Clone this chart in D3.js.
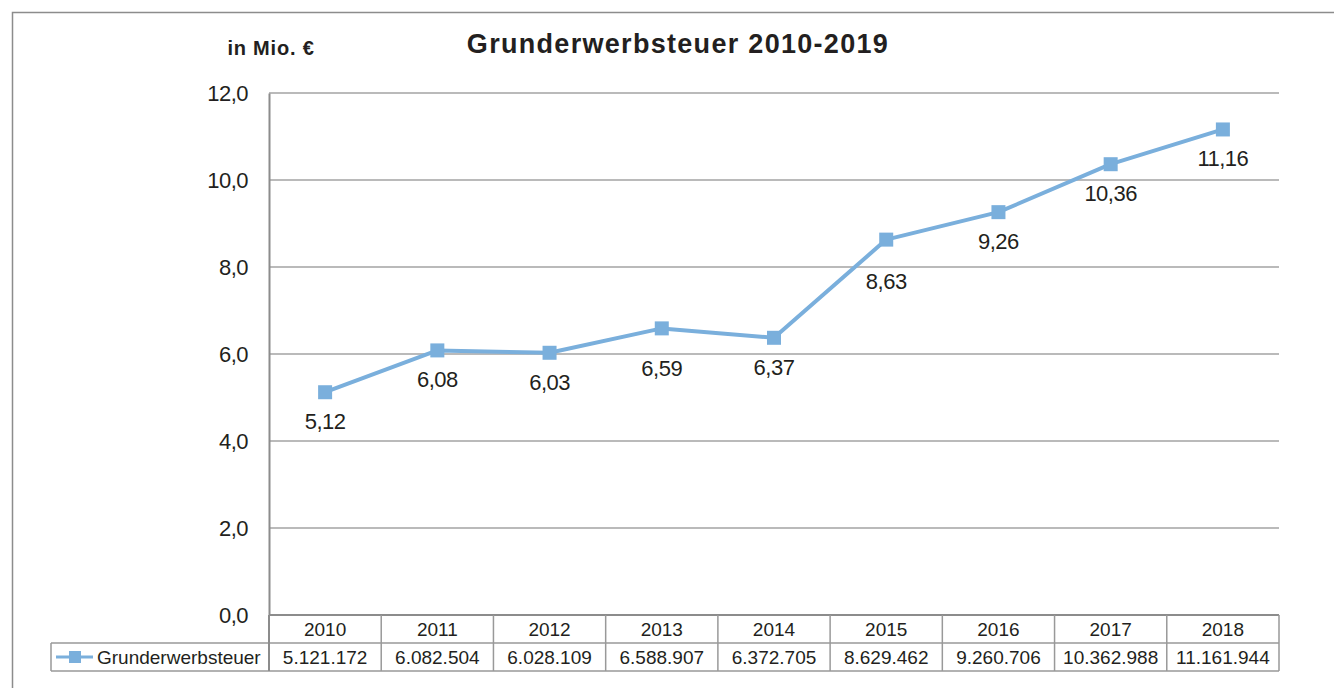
<!DOCTYPE html>
<html>
<head>
<meta charset="utf-8">
<script src="https://cdn.jsdelivr.net/npm/d3@7"></script>
<style>
body { margin:0; background:#fff; }
svg { font-family: "Liberation Sans", Arial, sans-serif; }
</style>
</head>
<body>
<div id="vis"></div>
<script>
var years = ["2010","2011","2012","2013","2014","2015","2016","2017","2018"];
var values = [5.121172, 6.082504, 6.028109, 6.588907, 6.372705, 8.629462, 9.260706, 10.362988, 11.161944];
var tableValues = ["5.121.172","6.082.504","6.028.109","6.588.907","6.372.705","8.629.462","9.260.706","10.362.988","11.161.944"];
var yTicks = [0, 2, 4, 6, 8, 10, 12];
var seriesName = "Grunderwerbsteuer";

var w = 1334, h = 688;
var lineColor = "#7aafdc", textColor = "#231f20";
var plotLeft = 269, plotRight = 1279, plotTop = 93, plotBottom = 615;
var rowH = 28;

var svg = d3.select("#vis").append("svg")
	.attr("width", w)
	.attr("height", h);

// outer frame
svg.append("path")
	.attr("d", "M12.5," + h + "V12.5H" + w)
	.attr("fill", "none")
	.attr("stroke", "#8c8c8c")
	.attr("stroke-width", 1.5);

var x = d3.scaleBand().domain(years).range([plotLeft, plotRight]);
var y = d3.scaleLinear().domain([0, 12]).range([plotBottom, plotTop]);

// gridlines
svg.append("g")
	.selectAll("line")
	.data(yTicks.filter(function(d){ return d > 0; }))
	.enter()
	.append("line")
	.attr("x1", plotLeft).attr("x2", plotRight)
	.attr("y1", function(d){ return y(d); })
	.attr("y2", function(d){ return y(d); })
	.attr("stroke", "#a3a3a3")
	.attr("stroke-width", 1.5);

// y axis
var yAxis = d3.axisLeft(y).tickValues(yTicks).tickSize(0).tickPadding(21)
	.tickFormat(function(d){ return d3.format(".1f")(d).replace(".", ","); });
var gy = svg.append("g").attr("transform", "translate(" + plotLeft + ",0)").call(yAxis);
gy.select(".domain").attr("stroke", "#8c8c8c").attr("stroke-width", 2);
gy.selectAll("text").attr("font-size", 22).attr("letter-spacing", -0.5).attr("fill", textColor)
	.attr("font-family", "Liberation Sans, Arial, sans-serif");

// title + unit
svg.append("text").attr("x", 678).attr("y", 53).attr("text-anchor", "middle")
	.attr("font-size", 27).attr("font-weight", "bold").attr("letter-spacing", 1.3).attr("fill", textColor)
	.text("Grunderwerbsteuer 2010-2019");
svg.append("text").attr("x", 271).attr("y", 55).attr("text-anchor", "middle")
	.attr("font-size", 20).attr("font-weight", "bold").attr("letter-spacing", 0.8).attr("fill", textColor)
	.text("in Mio. €");

// data table
var tbl = svg.append("g");
var gridCol = "#999";
tbl.append("line").attr("x1", plotLeft).attr("x2", plotRight).attr("y1", plotBottom).attr("y2", plotBottom)
	.attr("stroke", "#8c8c8c").attr("stroke-width", 2);
tbl.append("line").attr("x1", 51).attr("x2", plotRight).attr("y1", plotBottom + rowH).attr("y2", plotBottom + rowH)
	.attr("stroke", gridCol).attr("stroke-width", 1.5);
tbl.append("line").attr("x1", 51).attr("x2", plotRight).attr("y1", plotBottom + 2*rowH).attr("y2", plotBottom + 2*rowH)
	.attr("stroke", gridCol).attr("stroke-width", 1.5);
tbl.append("line").attr("x1", 51).attr("x2", 51).attr("y1", plotBottom + rowH).attr("y2", plotBottom + 2*rowH)
	.attr("stroke", gridCol).attr("stroke-width", 1.5);
tbl.selectAll(".vline")
	.data(years.concat(["end"]))
	.enter()
	.append("line")
	.attr("x1", function(d, i){ return plotLeft + i * x.bandwidth(); })
	.attr("x2", function(d, i){ return plotLeft + i * x.bandwidth(); })
	.attr("y1", plotBottom).attr("y2", plotBottom + 2*rowH)
	.attr("stroke", function(d, i){ return i == 0 ? "#8c8c8c" : gridCol; })
	.attr("stroke-width", function(d, i){ return i == 0 ? 2 : 1.5; });
tbl.selectAll(".yr")
	.data(years)
	.enter()
	.append("text")
	.attr("x", function(d){ return x(d) + x.bandwidth()/2; })
	.attr("y", plotBottom + 21)
	.attr("text-anchor", "middle").attr("font-size", 19).attr("fill", textColor)
	.text(function(d){ return d; });
tbl.selectAll(".val")
	.data(tableValues)
	.enter()
	.append("text")
	.attr("x", function(d, i){ return x(years[i]) + x.bandwidth()/2; })
	.attr("y", plotBottom + rowH + 21)
	.attr("text-anchor", "middle").attr("font-size", 19).attr("fill", textColor)
	.text(function(d){ return d; });

// legend key in table
tbl.append("line").attr("x1", 56).attr("x2", 93).attr("y1", plotBottom + rowH*1.5).attr("y2", plotBottom + rowH*1.5)
	.attr("stroke", lineColor).attr("stroke-width", 3);
tbl.append("rect").attr("x", 69).attr("y", plotBottom + rowH*1.5 - 6).attr("width", 12).attr("height", 12)
	.attr("fill", lineColor);
tbl.append("text").attr("x", 97).attr("y", plotBottom + rowH + 21)
	.attr("font-size", 19).attr("fill", textColor)
	.text(seriesName);

// line
var line = d3.line()
	.x(function(d, i){ return x(years[i]) + x.bandwidth()/2; })
	.y(function(d){ return y(d); });
svg.append("path")
	.datum(values)
	.attr("d", line)
	.attr("fill", "none")
	.attr("stroke", lineColor)
	.attr("stroke-width", 4)
	.attr("stroke-linejoin", "round");

var ms = 14;
svg.selectAll(".marker")
	.data(values)
	.enter()
	.append("rect")
	.attr("x", function(d, i){ return x(years[i]) + x.bandwidth()/2 - ms/2; })
	.attr("y", function(d){ return y(d) - ms/2; })
	.attr("width", ms).attr("height", ms)
	.attr("fill", lineColor);

// label centre sits below the point; if a gridline would cut through it, push it under that line
function labelCenter(d)
{
	var c = y(d) + 29;
	yTicks.forEach(function(t){
		var gy = y(t);
		if ( Math.abs(gy - c) < 10 )
			c = gy + 14;
	});
	return c;
}

svg.selectAll(".dlabel")
	.data(values)
	.enter()
	.append("text")
	.attr("x", function(d, i){ return x(years[i]) + x.bandwidth()/2; })
	.attr("y", function(d){ return labelCenter(d) + 8; })
	.attr("text-anchor", "middle").attr("font-size", 22).attr("letter-spacing", -0.5).attr("fill", textColor)
	.text(function(d){ return d3.format(".2f")(d).replace(".", ","); });
</script>
</body>
</html>
